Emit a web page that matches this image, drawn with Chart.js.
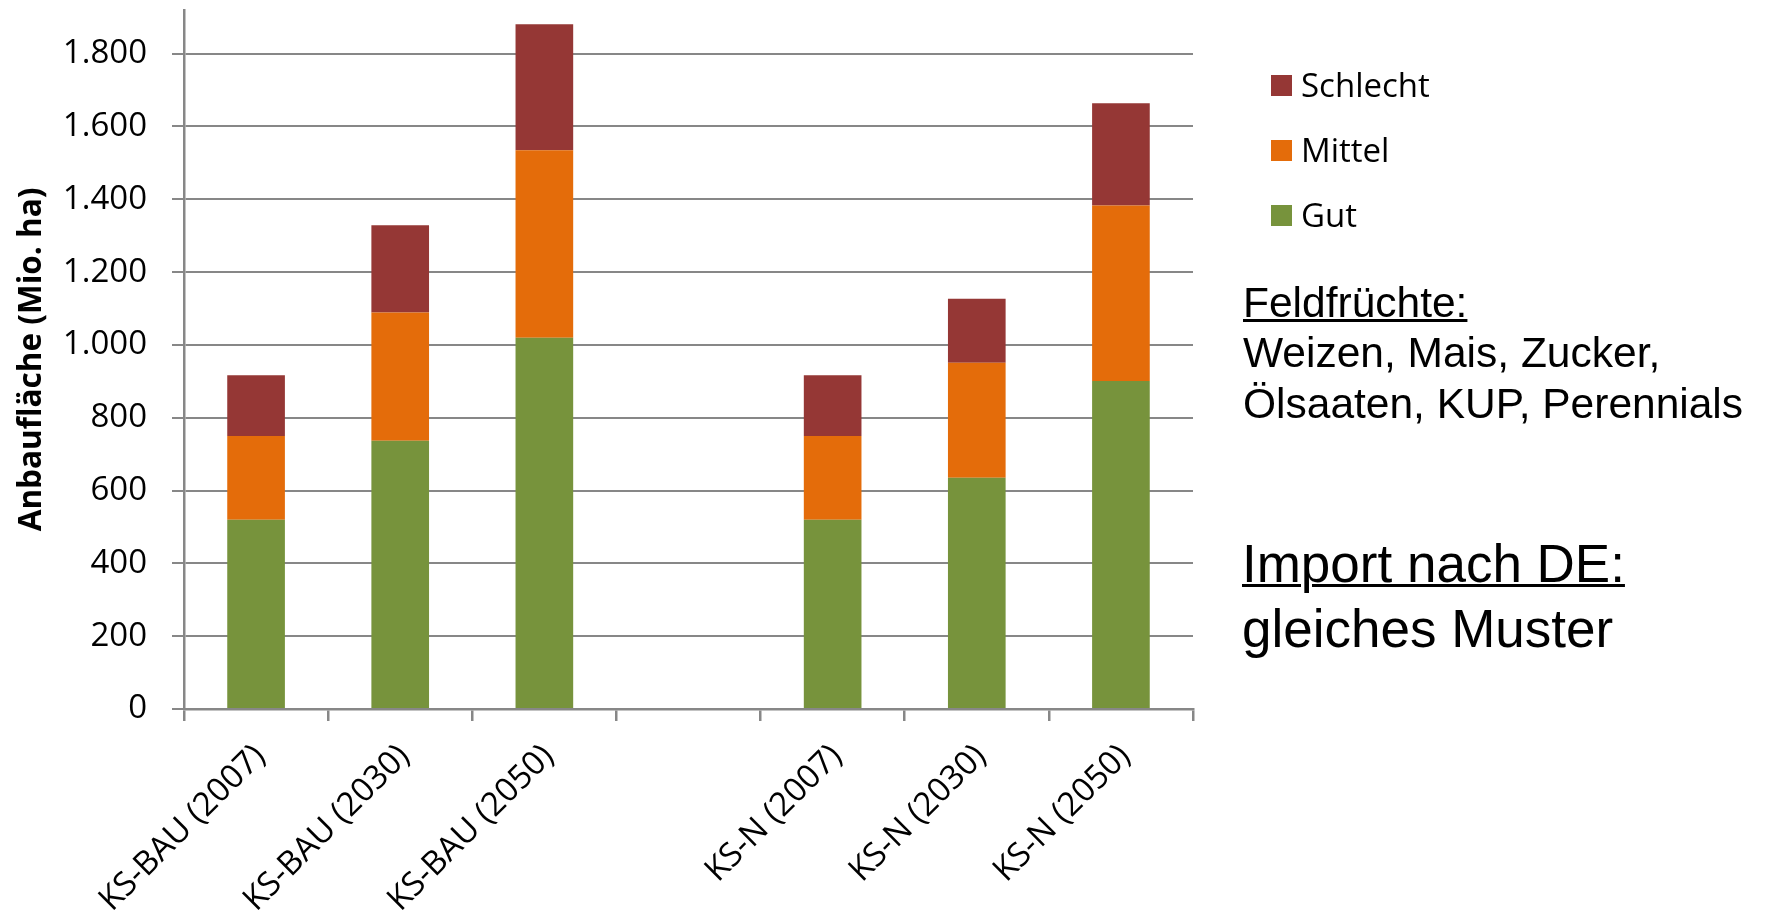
<!DOCTYPE html>
<html lang="de">
<head>
<meta charset="utf-8">
<title>Anbaufläche nach Szenario</title>
<script src="https://cdn.jsdelivr.net/npm/chart.js@4.4.1/dist/chart.umd.min.js"></script>
<style>
  html, body { margin: 0; padding: 0; background: #fff; }
  body { width: 1765px; height: 916px; position: relative; overflow: hidden; }
  #chart { position: absolute; left: 0; top: 0; }
  #legend { position: absolute; left: 1271px; top: 0; font-family: "Open Sans", sans-serif; font-size: 33px; color: #000; }
  .legend-item { position: absolute; left: 0; height: 40px; line-height: 40px; display: flex; align-items: center; white-space: nowrap; }
  .legend-item .swatch { width: 21px; height: 21px; margin-right: 9px; flex: none; }
  .note { position: absolute; left: 1243px; font-family: "Liberation Sans", Arial, sans-serif; color: #000; white-space: nowrap; line-height: 1; }
  .note.small { font-size: 42.5px; }
  .note.big { font-size: 53px; left: 1242px; }
  .note.head { text-decoration: underline; text-decoration-thickness: 3px; }
</style>
</head>
<body>
<canvas id="chart" width="1765" height="916" style="width:1765px;height:916px"></canvas>
<div id="legend"></div>
<div class="note small head" style="top:282px">Feldfrüchte:</div>
<div class="note small" style="top:332px">Weizen, Mais, Zucker,</div>
<div class="note small" style="top:383px">Ölsaaten, KUP, Perennials</div>
<div class="note big head" style="top:537px">Import nach DE:</div>
<div class="note big" style="top:602px">gleiches Muster</div>
<script>
// Scenarios on the category axis; the empty entry separates the two scenario groups.
const categories = ['KS-BAU (2007)', 'KS-BAU (2030)', 'KS-BAU (2050)', '', 'KS-N (2007)', 'KS-N (2030)', 'KS-N (2050)'];

// Cultivated area per suitability class (Mio. ha), stacked bottom to top.
const gut      = [520, 737, 1020, null, 520, 635, 901];
const mittel   = [230, 352,  515, null, 230, 316, 482];
const schlecht = [167, 240,  346, null, 167, 176, 281];

const seriesNames  = ['Gut', 'Mittel', 'Schlecht'];
const seriesColors = ['#77933C', '#E46C0A', '#953735'];

const yTickValues = [0, 200, 400, 600, 800, 1000, 1200, 1400, 1600, 1800];
const yAxisTitle = 'Anbaufläche (Mio. ha)';

const axisGray = '#878787';
const tickFont = { family: 'Open Sans', size: 33 };

function formatThousands(v) {
  return String(v).replace(/\B(?=(\d{3})+(?!\d))/g, '.');
}

function buildLegend(chart) {
  const box = document.getElementById('legend');
  box.innerHTML = '';
  const centers = [85, 150, 215];
  const items = chart.data.datasets.map(ds => ({ text: ds.label, color: ds.backgroundColor })).reverse();
  items.forEach((item, i) => {
    const row = document.createElement('div');
    row.className = 'legend-item';
    row.style.top = (centers[i] - 20) + 'px';
    const sw = document.createElement('span');
    sw.className = 'swatch';
    sw.style.background = item.color;
    const label = document.createElement('span');
    label.textContent = item.text;
    row.appendChild(sw);
    row.appendChild(label);
    box.appendChild(row);
  });
}

function draw() {
  const ctx = document.getElementById('chart').getContext('2d');
  const seriesData = [gut, mittel, schlecht];
  const chart = new Chart(ctx, {
    type: 'bar',
    data: {
      labels: categories,
      datasets: seriesNames.map((name, i) => ({
        label: name,
        data: seriesData[i],
        backgroundColor: seriesColors[i],
        borderWidth: 0,
        barPercentage: 0.4,
        categoryPercentage: 1
      }))
    },
    options: {
      responsive: false,
      animation: false,
      devicePixelRatio: 1,
      layout: { padding: { top: 10, right: 572, bottom: 0, left: 0 } },
      plugins: { legend: { display: false }, tooltip: { enabled: false } },
      scales: {
        x: {
          stacked: true,
          offset: true,
          grid: { offset: true, drawOnChartArea: false, drawTicks: true, tickLength: 12, color: axisGray, lineWidth: 2.5 },
          border: { display: true, color: axisGray, width: 2.5 },
          ticks: { autoSkip: false, minRotation: 45, maxRotation: 45, padding: 16, labelOffset: 4, color: '#000', font: tickFont },
          afterFit(scale) { scale.height = 207; scale.paddingLeft = 0; scale.paddingRight = 0; }
        },
        y: {
          stacked: true,
          min: 0,
          max: 1920,
          grid: { color: axisGray, lineWidth: 2, drawTicks: true, tickLength: 12 },
          border: { display: true, color: axisGray, width: 2.5 },
          afterBuildTicks(scale) { scale.ticks = yTickValues.map(v => ({ value: v })); },
          ticks: { padding: 25, color: '#000', font: tickFont, callback: v => formatThousands(v) },
          title: {
            display: true,
            text: yAxisTitle,
            color: '#000',
            font: { family: 'Open Sans', size: 31.5, weight: 'bold' },
            padding: { top: 13, bottom: 0 }
          },
          afterFit(scale) { scale.width = 184; scale.paddingTop = 0; scale.paddingBottom = 0; }
        }
      }
    }
  });
  buildLegend(chart);
}

Promise.all([
  document.fonts.load('33px "Open Sans"'),
  document.fonts.load('bold 32px "Open Sans"'),
  document.fonts.load('42px "Liberation Sans"')
]).catch(() => {}).then(draw);
</script>
</body>
</html>
